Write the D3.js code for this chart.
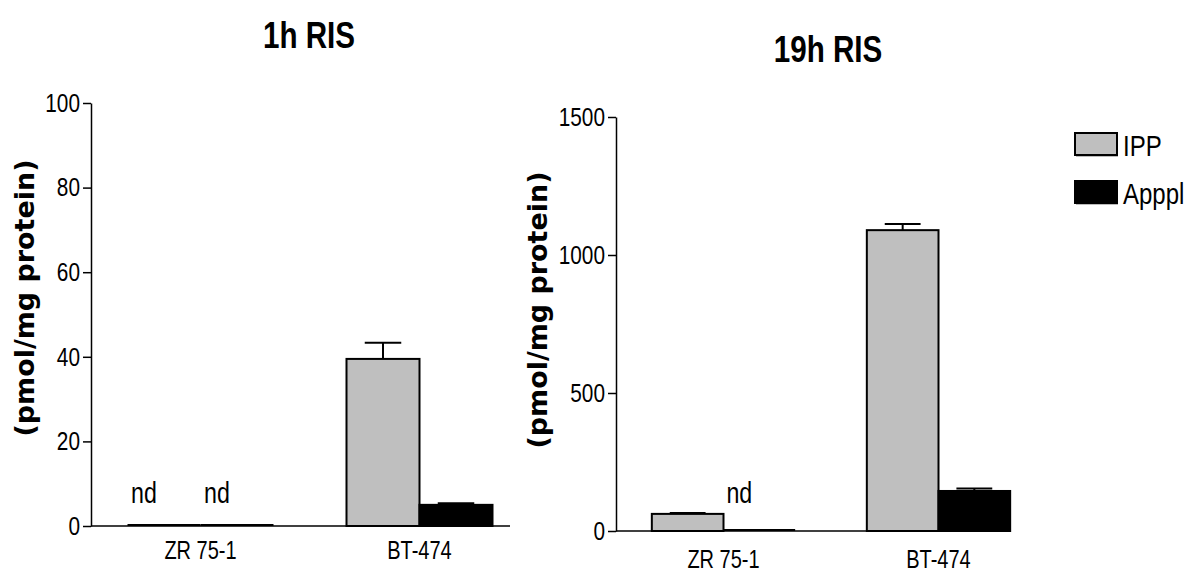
<!DOCTYPE html>
<html>
<head>
<meta charset="utf-8">
<script src="https://cdn.jsdelivr.net/npm/d3@7"></script>
<style>
  body { margin: 0; background: #fff; }
  svg { display: block; }
  .tick text, .cat, .nd, .legend text { font-family: "Liberation Sans Narrow", "Arial Narrow", "Liberation Sans", sans-serif; fill: #000; }
  .title { font-family: "Liberation Sans Narrow", "Arial Narrow", "Liberation Sans", sans-serif; font-weight: bold; }
  .ylab { font-family: "DejaVu Sans", Verdana, sans-serif; font-weight: bold; }
</style>
</head>
<body>
<div id="chart"></div>
<script>
//---------------------------DATA-------------------------------//
const categories = ["ZR 75-1", "BT-474"];
const series = ["IPP", "Apppl"];
const colors = ["#bfbfbf", "#000000"];

// 1h RIS panel
const ipp1h = [0, 39.5];
const ippErr1h = [0, 3.8];
const apppl1h = [0, 5.0];
const appplErr1h = [0, 0.4];
const yTicks1h = [0, 20, 40, 60, 80, 100];
// not detected markers: [category, series]
const nd1h = [["ZR 75-1", "IPP"], ["ZR 75-1", "Apppl"]];

// 19h RIS panel
const ipp19h = [62, 1090];
const ippErr19h = [3, 22];
const apppl19h = [0, 145];
const appplErr19h = [0, 9];
const yTicks19h = [0, 500, 1000, 1500];
const nd19h = [["ZR 75-1", "Apppl"]];

const yLabel = "(pmol/mg protein)";

//---------------------------SVG--------------------------------//
const width = 1185;
const height = 569;
const svg = d3.select("#chart").append("svg")
    .attr("width", width)
    .attr("height", height);

function drawPanel(p) {
    const g = svg.append("g");

    const x = d3.scaleBand()
        .domain(categories)
        .range([p.x0, p.x0 + 2 * p.step])
        .paddingInner(1 / 3)
        .paddingOuter(1 / 6);
    const xs = d3.scaleBand()
        .domain(series)
        .range([0, x.bandwidth()]);
    const y = d3.scaleLinear()
        .domain([0, p.yMax])
        .range([p.y0, p.y1]);

    const rows = [];
    categories.forEach(function(c, i) {
        rows.push({cat: c, s: "IPP", v: p.ipp[i], e: p.ippErr[i], col: colors[0]});
        rows.push({cat: c, s: "Apppl", v: p.apppl[i], e: p.appplErr[i], col: colors[1]});
    });

    // bars
    g.selectAll("rect.bar")
        .data(rows.filter(function(d) { return d.v > 0; }))
        .enter().append("rect")
        .attr("class", "bar")
        .attr("x", function(d) { return x(d.cat) + xs(d.s); })
        .attr("y", function(d) { return y(d.v); })
        .attr("width", xs.bandwidth())
        .attr("height", function(d) { return y(0) - y(d.v); })
        .attr("fill", function(d) { return d.col; })
        .attr("stroke", "#000")
        .attr("stroke-width", 2);

    // zero bars: flat line on the baseline
    g.selectAll("line.zero")
        .data(rows.filter(function(d) { return d.v === 0; }))
        .enter().append("line")
        .attr("x1", function(d) { return x(d.cat) + xs(d.s); })
        .attr("x2", function(d) { return x(d.cat) + xs(d.s) + xs.bandwidth(); })
        .attr("y1", y(0) - 1)
        .attr("y2", y(0) - 1)
        .attr("stroke", "#000")
        .attr("stroke-width", 2);

    // error bars (upper only)
    const errs = g.selectAll("g.err")
        .data(rows.filter(function(d) { return d.e > 0; }))
        .enter().append("g")
        .attr("stroke", "#000")
        .attr("stroke-width", 2);
    errs.append("line")
        .attr("x1", function(d) { return x(d.cat) + xs(d.s) + xs.bandwidth() / 2; })
        .attr("x2", function(d) { return x(d.cat) + xs(d.s) + xs.bandwidth() / 2; })
        .attr("y1", function(d) { return y(d.v); })
        .attr("y2", function(d) { return y(d.v + d.e); });
    errs.append("line")
        .attr("x1", function(d) { return x(d.cat) + xs(d.s) + xs.bandwidth() / 4; })
        .attr("x2", function(d) { return x(d.cat) + xs(d.s) + xs.bandwidth() * 3 / 4; })
        .attr("y1", function(d) { return y(d.v + d.e); })
        .attr("y2", function(d) { return y(d.v + d.e); });

    // nd labels
    g.selectAll("text.nd")
        .data(p.nd)
        .enter().append("text")
        .attr("class", "nd")
        .attr("x", function(d) { return x(d[0]) + xs(d[1]) + xs.bandwidth() / 2 - 20; })
        .attr("y", y(0) - p.ndDy)
        .attr("text-anchor", "middle")
        .style("font-size", "29px")
        .text("nd");

    // y axis
    const yAxis = d3.axisLeft(y)
        .tickValues(p.yTicks)
        .tickFormat(d3.format("d"))
        .tickSize(8)
        .tickSizeOuter(0)
        .tickPadding(3);
    const ya = g.append("g")
        .attr("transform", "translate(" + p.x0 + ",0)")
        .call(yAxis);
    ya.selectAll("path, line").attr("stroke", "#000").attr("stroke-width", 1.5);
    ya.selectAll("text").style("font-size", "26px");

    // x axis line
    g.append("line")
        .attr("x1", p.x0)
        .attr("x2", p.xEnd)
        .attr("y1", y(0))
        .attr("y2", y(0))
        .attr("stroke", "#000")
        .attr("stroke-width", 1.5);

    g.selectAll("text.cat")
        .data(categories)
        .enter().append("text")
        .attr("class", "cat")
        .attr("x", function(d) { return x(d) + x.bandwidth() / 2; })
        .attr("y", y(0) + p.catDy)
        .attr("text-anchor", "middle")
        .style("font-size", "25px")
        .text(function(d) { return d; });

    // title
    g.append("text")
        .attr("class", "title")
        .attr("x", p.titleX)
        .attr("y", p.titleY)
        .attr("text-anchor", "middle")
        .style("font-size", "37px")
        .text(p.title);

    // y label
    g.append("text")
        .attr("class", "ylab")
        .attr("transform", "translate(" + p.labX + "," + p.labY + ") rotate(-90)")
        .attr("text-anchor", "middle")
        .attr("dominant-baseline", "central")
        .attr("textLength", 277)
        .attr("lengthAdjust", "spacingAndGlyphs")
        .style("font-size", "26px")
        .text(yLabel);
}

drawPanel({
    title: "1h RIS", titleX: 309, titleY: 48,
    x0: 91, xEnd: 510, step: 219, y0: 526, y1: 103, yMax: 100,
    ipp: ipp1h, ippErr: ippErr1h, apppl: apppl1h, appplErr: appplErr1h,
    yTicks: yTicks1h, nd: nd1h, ndDy: 23, catDy: 33, labX: 25, labY: 298
});

drawPanel({
    title: "19h RIS", titleX: 828, titleY: 62,
    x0: 616, xEnd: 1011, step: 215, y0: 531, y1: 117, yMax: 1500,
    ipp: ipp19h, ippErr: ippErr19h, apppl: apppl19h, appplErr: appplErr19h,
    yTicks: yTicks19h, nd: nd19h, ndDy: 28, catDy: 37, labX: 538, labY: 310
});

//--------------------------LEGEND------------------------------//
const legend = svg.append("g").attr("class", "legend");
const leg = legend.selectAll("g")
    .data(series)
    .enter().append("g")
    .attr("transform", function(d, i) { return "translate(1075," + (133 + i * 48) + ")"; });
leg.append("rect")
    .attr("x", 1).attr("y", 2)
    .attr("width", 42).attr("height", 22)
    .attr("fill", "#bbb");
leg.append("rect")
    .attr("width", 42).attr("height", 22)
    .attr("fill", function(d, i) { return colors[i]; })
    .attr("stroke", "#000")
    .attr("stroke-width", 2);
leg.append("text")
    .attr("x", 48)
    .attr("y", 23)
    .style("font-size", "30px")
    .text(function(d) { return d; });

// narrow look: squeeze the regular sans texts to Arial Narrow proportions
svg.selectAll(".tick text, .cat, .nd, .legend text, .title").each(function() {
    const w = this.getComputedTextLength();
    d3.select(this)
        .attr("textLength", w * 0.8)
        .attr("lengthAdjust", "spacingAndGlyphs");
});
</script>
</body>
</html>
